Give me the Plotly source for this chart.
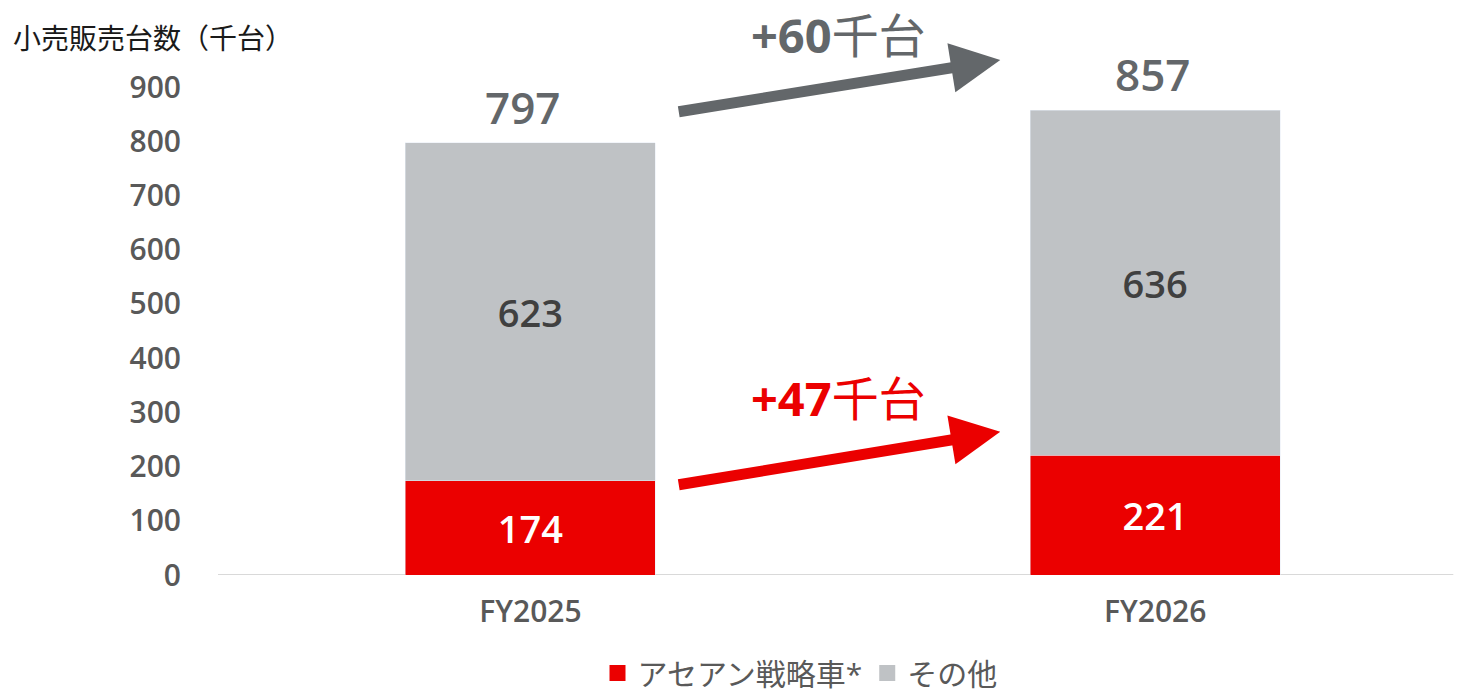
import plotly.graph_objects as go

categories = ["FY2025", "FY2026"]
asean = [174, 221]
others = [623, 636]
totals = [797, 857]
series_names = ["アセアン戦略車*", "その他"]
y_ticks = [0, 100, 200, 300, 400, 500, 600, 700, 800, 900]
axis_title = "小売販売台数（千台）"
diff_total = ("+60", "千台")
diff_asean = ("+47", "千台")

FONT = "Open Sans, Noto Sans CJK JP, sans-serif"
RED = "#eb0000"
GREY = "#bfc2c5"
DARK = "#595959"
ARROW_GREY = "#63676a"

fig = go.Figure()
fig.add_trace(go.Bar(
    x=categories, y=asean, name=series_names[0], marker_color=RED,
    width=0.4, text=asean, textposition="inside", insidetextanchor="middle",
    textfont=dict(color="white", size=38, family=FONT, weight=600),
    textangle=0, showlegend=False,
))
fig.add_trace(go.Bar(
    x=categories, y=others, name=series_names[1], marker_color=GREY,
    width=0.4, text=others, textposition="inside", insidetextanchor="middle",
    textfont=dict(color="#404040", size=38, family=FONT, weight=600),
    textangle=0, showlegend=False,
))
# legend entries with square swatches
for name, col in zip(series_names, [RED, GREY]):
    fig.add_trace(go.Scatter(x=[None], y=[None], mode="markers", name=name,
                             marker=dict(symbol="square", size=16, color=col)))

for c, t, dx in zip(categories, totals, [-8, -3]):
    fig.add_annotation(x=c, y=t, text=str(t), showarrow=False, yanchor="bottom",
                       yshift=4, xshift=dx,
                       font=dict(size=44, color=ARROW_GREY, family=FONT, weight=600))

# arrows (category index coordinates)
fig.add_annotation(x=0.752, y=950, ax=0.235, ay=854, xref="x", yref="y", axref="x", ayref="y",
                   text="", showarrow=True, arrowhead=2, arrowsize=0.9, arrowwidth=11,
                   arrowcolor=ARROW_GREY)
fig.add_annotation(x=0.752, y=264, ax=0.235, ay=166, xref="x", yref="y", axref="x", ayref="y",
                   text="", showarrow=True, arrowhead=2, arrowsize=0.9, arrowwidth=11,
                   arrowcolor=RED)
fig.add_annotation(x=0.493, y=996, xref="x", yref="y",
                   text=f"<b>{diff_total[0]}</b>{diff_total[1]}", showarrow=False,
                   font=dict(size=47, color=ARROW_GREY, family=FONT))
fig.add_annotation(x=0.493, y=326, xref="x", yref="y",
                   text=f"<b>{diff_asean[0]}</b>{diff_asean[1]}", showarrow=False,
                   font=dict(size=47, color=RED, family=FONT))

fig.add_annotation(x=0, y=1, xref="paper", yref="paper", xanchor="left", yanchor="middle",
                   xshift=-207, yshift=-38, text=axis_title,
                   showarrow=False, font=dict(size=28, color="#1a1a1a", family=FONT))

fig.update_layout(
    barmode="stack",
    width=1457, height=693,
    margin=dict(l=218, r=0, t=0, b=118, autoexpand=False),
    paper_bgcolor="white", plot_bgcolor="white",
    showlegend=True,
    legend=dict(orientation="h", x=(800 - 218) / 1239, xanchor="center",
                yref="paper", y=(575 - 673) / 575, yanchor="middle",
                font=dict(size=30, color=DARK, family=FONT),
                traceorder="normal", itemwidth=30, bgcolor="rgba(0,0,0,0)"),
    xaxis=dict(range=[-0.5, 1.483], showgrid=False, showline=False, zeroline=False,
               tickfont=dict(size=30, color=DARK, family=FONT, weight=600), ticks="",
               ticklabelstandoff=16, automargin=False),
    yaxis=dict(range=[0, 575 / 0.5422], tickvals=y_ticks, showgrid=False, zeroline=False,
               showline=False, tickfont=dict(size=30, color=DARK, family=FONT, weight=600),
               ticklabelstandoff=36, automargin=False),
)
fig.add_shape(type="line", xref="paper", yref="y", x0=0, x1=0.997, y0=0, y1=0,
              line=dict(color="#d9d9d9", width=2), layer="below")

fig.write_html("out.html", config={"displayModeBar": False},
               post_script="document.body.style.margin='0';document.body.style.overflow='hidden';")
